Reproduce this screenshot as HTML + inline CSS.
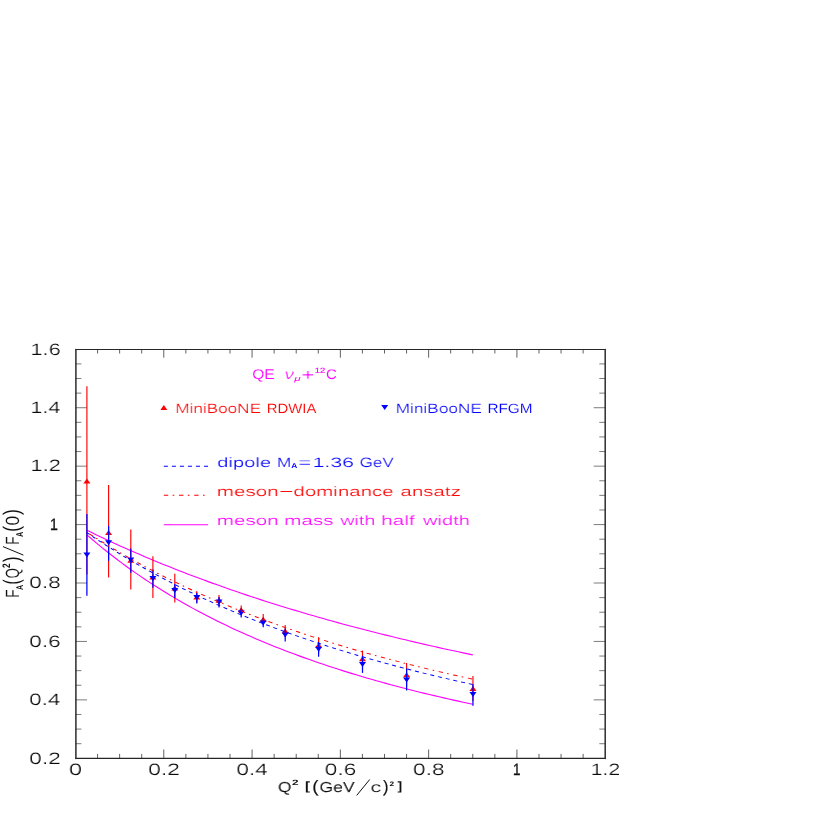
<!DOCTYPE html>
<html><head><meta charset="utf-8"><title>FA(Q2)/FA(0)</title>
<style>
html,body{margin:0;padding:0;background:#fff;}
body{width:817px;height:817px;overflow:hidden;}
svg{display:block;}
text{font-family:"Liberation Sans",sans-serif;text-rendering:geometricPrecision;}
.k{fill:#111;}
.r{fill:#f00;}
.b{fill:#00f;}
.m{fill:#f0f;}
.w text{stroke:#fff;stroke-width:0.12px;}
.w2 text{stroke:#fff;stroke-width:0.08px;}
</style></head><body>
<svg width="817" height="817" viewBox="0 0 817 817">
<rect x="0" y="0" width="817" height="817" fill="#fff"/>
<defs><filter id="thin" filterUnits="userSpaceOnUse" x="0" y="0" width="817" height="817" color-interpolation-filters="sRGB"><feOffset dx="1" dy="0" result="o"/><feComposite in="SourceGraphic" in2="o" operator="arithmetic" k1="0.45" k2="0.55" k3="0" k4="0"/></filter><filter id="gray" filterUnits="userSpaceOnUse" x="0" y="0" width="817" height="817"><feOffset dx="0" dy="0"/></filter></defs>
<g stroke="#444" stroke-width="0.85" fill="none">
<path d="M97.57 758.30V753.90M97.57 349.30V353.50"/>
<path d="M119.64 758.30V753.90M119.64 349.30V353.50"/>
<path d="M141.71 758.30V753.90M141.71 349.30V353.50"/>
<path d="M163.78 758.30V749.50M163.78 349.30V357.70"/>
<path d="M185.85 758.30V753.90M185.85 349.30V353.50"/>
<path d="M207.93 758.30V753.90M207.93 349.30V353.50"/>
<path d="M230.00 758.30V753.90M230.00 349.30V353.50"/>
<path d="M252.07 758.30V749.50M252.07 349.30V357.70"/>
<path d="M274.14 758.30V753.90M274.14 349.30V353.50"/>
<path d="M296.21 758.30V753.90M296.21 349.30V353.50"/>
<path d="M318.28 758.30V753.90M318.28 349.30V353.50"/>
<path d="M340.35 758.30V749.50M340.35 349.30V357.70"/>
<path d="M362.42 758.30V753.90M362.42 349.30V353.50"/>
<path d="M384.49 758.30V753.90M384.49 349.30V353.50"/>
<path d="M406.56 758.30V753.90M406.56 349.30V353.50"/>
<path d="M428.63 758.30V749.50M428.63 349.30V357.70"/>
<path d="M450.70 758.30V753.90M450.70 349.30V353.50"/>
<path d="M472.78 758.30V753.90M472.78 349.30V353.50"/>
<path d="M494.85 758.30V753.90M494.85 349.30V353.50"/>
<path d="M516.92 758.30V749.50M516.92 349.30V357.70"/>
<path d="M538.99 758.30V753.90M538.99 349.30V353.50"/>
<path d="M561.06 758.30V753.90M561.06 349.30V353.50"/>
<path d="M583.13 758.30V753.90M583.13 349.30V353.50"/>
</g><g stroke="#444" stroke-width="0.7" fill="none">
<path d="M75.50 743.69H81.40M605.20 743.69H599.30"/>
<path d="M75.50 729.09H81.40M605.20 729.09H599.30"/>
<path d="M75.50 714.48H81.40M605.20 714.48H599.30"/>
<path d="M75.50 699.87H87.00M605.20 699.87H593.70"/>
<path d="M75.50 685.26H81.40M605.20 685.26H599.30"/>
<path d="M75.50 670.66H81.40M605.20 670.66H599.30"/>
<path d="M75.50 656.05H81.40M605.20 656.05H599.30"/>
<path d="M75.50 641.44H87.00M605.20 641.44H593.70"/>
<path d="M75.50 626.84H81.40M605.20 626.84H599.30"/>
<path d="M75.50 612.23H81.40M605.20 612.23H599.30"/>
<path d="M75.50 597.62H81.40M605.20 597.62H599.30"/>
<path d="M75.50 583.01H87.00M605.20 583.01H593.70"/>
<path d="M75.50 568.41H81.40M605.20 568.41H599.30"/>
<path d="M75.50 553.80H81.40M605.20 553.80H599.30"/>
<path d="M75.50 539.19H81.40M605.20 539.19H599.30"/>
<path d="M75.50 524.59H87.00M605.20 524.59H593.70"/>
<path d="M75.50 509.98H81.40M605.20 509.98H599.30"/>
<path d="M75.50 495.37H81.40M605.20 495.37H599.30"/>
<path d="M75.50 480.76H81.40M605.20 480.76H599.30"/>
<path d="M75.50 466.16H87.00M605.20 466.16H593.70"/>
<path d="M75.50 451.55H81.40M605.20 451.55H599.30"/>
<path d="M75.50 436.94H81.40M605.20 436.94H599.30"/>
<path d="M75.50 422.34H81.40M605.20 422.34H599.30"/>
<path d="M75.50 407.73H87.00M605.20 407.73H593.70"/>
<path d="M75.50 393.12H81.40M605.20 393.12H599.30"/>
<path d="M75.50 378.51H81.40M605.20 378.51H599.30"/>
<path d="M75.50 363.91H81.40M605.20 363.91H599.30"/>
</g>
<g fill="none" stroke-width="1.1">
<path stroke="#f0f" d="M86.89 530.26 L91.71 532.61 L96.54 534.93 L101.36 537.22 L106.18 539.49 L111.01 541.73 L115.83 543.94 L120.65 546.13 L125.48 548.29 L130.30 550.42 L135.12 552.53 L139.95 554.61 L144.77 556.67 L149.60 558.71 L154.42 560.72 L159.24 562.70 L164.07 564.67 L168.89 566.61 L173.71 568.53 L178.54 570.43 L183.36 572.30 L188.18 574.16 L193.01 575.99 L197.83 577.80 L202.65 579.60 L207.48 581.37 L212.30 583.12 L217.13 584.85 L221.95 586.57 L226.77 588.26 L231.60 589.94 L236.42 591.60 L241.24 593.24 L246.07 594.86 L250.89 596.46 L255.71 598.05 L260.54 599.62 L265.36 601.17 L270.18 602.71 L275.01 604.23 L279.83 605.73 L284.66 607.22 L289.48 608.69 L294.30 610.15 L299.13 611.59 L303.95 613.01 L308.77 614.43 L313.60 615.82 L318.42 617.21 L323.24 618.57 L328.07 619.93 L332.89 621.27 L337.71 622.60 L342.54 623.91 L347.36 625.21 L352.19 626.50 L357.01 627.77 L361.83 629.03 L366.66 630.28 L371.48 631.52 L376.30 632.74 L381.13 633.95 L385.95 635.15 L390.77 636.34 L395.60 637.52 L400.42 638.68 L405.24 639.84 L410.07 640.98 L414.89 642.11 L419.72 643.23 L424.54 644.34 L429.36 645.44 L434.19 646.53 L439.01 647.61 L443.83 648.68 L448.66 649.73 L453.48 650.78 L458.30 651.82 L463.13 652.85 L467.95 653.87 L472.78 654.88"/>
<path stroke="#f0f" d="M86.89 534.84 L91.71 539.01 L96.54 543.09 L101.36 547.07 L106.18 550.97 L111.01 554.77 L115.83 558.50 L120.65 562.14 L125.48 565.70 L130.30 569.18 L135.12 572.59 L139.95 575.92 L144.77 579.19 L149.60 582.38 L154.42 585.51 L159.24 588.58 L164.07 591.58 L168.89 594.52 L173.71 597.40 L178.54 600.22 L183.36 602.99 L188.18 605.71 L193.01 608.37 L197.83 610.97 L202.65 613.53 L207.48 616.04 L212.30 618.50 L217.13 620.91 L221.95 623.28 L226.77 625.61 L231.60 627.89 L236.42 630.13 L241.24 632.33 L246.07 634.49 L250.89 636.61 L255.71 638.69 L260.54 640.74 L265.36 642.75 L270.18 644.72 L275.01 646.66 L279.83 648.57 L284.66 650.44 L289.48 652.28 L294.30 654.09 L299.13 655.87 L303.95 657.62 L308.77 659.34 L313.60 661.03 L318.42 662.69 L323.24 664.33 L328.07 665.94 L332.89 667.53 L337.71 669.08 L342.54 670.62 L347.36 672.13 L352.19 673.61 L357.01 675.07 L361.83 676.51 L366.66 677.93 L371.48 679.33 L376.30 680.70 L381.13 682.05 L385.95 683.38 L390.77 684.69 L395.60 685.99 L400.42 687.26 L405.24 688.51 L410.07 689.75 L414.89 690.97 L419.72 692.17 L424.54 693.35 L429.36 694.51 L434.19 695.66 L439.01 696.79 L443.83 697.91 L448.66 699.01 L453.48 700.09 L458.30 701.16 L463.13 702.21 L467.95 703.25 L472.78 704.28"/>
</g>
<g stroke="#f00" stroke-width="1.15" fill="#f00">
<path d="M86.90 386.20V574.50"/>
<path d="M108.60 485.10V577.60"/>
<path d="M130.80 529.50V589.50"/>
<path d="M152.90 556.20V598.00"/>
<path d="M174.80 573.80V602.40"/>
<path d="M196.80 591.40V602.60"/>
<path d="M219.00 595.00V605.40"/>
<path d="M241.20 605.40V614.20"/>
<path d="M263.20 614.00V624.40"/>
<path d="M285.20 625.00V637.00"/>
<path d="M318.60 637.30V653.00"/>
<path d="M362.50 650.50V667.00"/>
<path d="M406.60 663.00V686.60"/>
<path d="M472.95 676.00V701.00"/>
</g><g fill="#f00">
<path d="M83.40 483.50L90.40 483.50L86.90 478.50Z"/>
<path d="M105.10 534.90L112.10 534.90L108.60 529.90Z"/>
<path d="M127.30 562.80L134.30 562.80L130.80 557.80Z"/>
<path d="M149.40 579.60L156.40 579.60L152.90 574.60Z"/>
<path d="M171.30 590.60L178.30 590.60L174.80 585.60Z"/>
<path d="M193.30 599.50L200.30 599.50L196.80 594.50Z"/>
<path d="M215.50 602.70L222.50 602.70L219.00 597.70Z"/>
<path d="M237.70 612.30L244.70 612.30L241.20 607.30Z"/>
<path d="M259.70 621.70L266.70 621.70L263.20 616.70Z"/>
<path d="M281.70 633.50L288.70 633.50L285.20 628.50Z"/>
<path d="M315.10 647.70L322.10 647.70L318.60 642.70Z"/>
<path d="M359.00 661.30L366.00 661.30L362.50 656.30Z"/>
<path d="M403.10 677.30L410.10 677.30L406.60 672.30Z"/>
<path d="M469.45 691.00L476.45 691.00L472.95 686.00Z"/>
</g>
<g stroke="#00f" stroke-width="1.25">
<path d="M86.90 514.00V595.80"/>
<path d="M108.60 525.80V560.80"/>
<path d="M130.80 548.60V572.80"/>
<path d="M152.90 569.40V587.70"/>
<path d="M174.80 584.00V598.00"/>
<path d="M196.80 592.90V603.50"/>
<path d="M219.00 597.00V607.60"/>
<path d="M241.20 608.50V617.60"/>
<path d="M263.20 618.50V627.30"/>
<path d="M285.20 628.50V641.50"/>
<path d="M318.60 642.00V656.70"/>
<path d="M362.50 655.80V672.90"/>
<path d="M406.60 668.50V690.50"/>
<path d="M472.95 684.20V705.80"/>
</g><g fill="#00f">
<path d="M83.40 552.40L90.40 552.40L86.90 557.40Z"/>
<path d="M105.10 540.20L112.10 540.20L108.60 545.20Z"/>
<path d="M127.30 557.40L134.30 557.40L130.80 562.40Z"/>
<path d="M149.40 576.00L156.40 576.00L152.90 581.00Z"/>
<path d="M171.30 587.90L178.30 587.90L174.80 592.90Z"/>
<path d="M193.30 595.10L200.30 595.10L196.80 600.10Z"/>
<path d="M215.50 599.50L222.50 599.50L219.00 604.50Z"/>
<path d="M237.70 610.50L244.70 610.50L241.20 615.50Z"/>
<path d="M259.70 620.40L266.70 620.40L263.20 625.40Z"/>
<path d="M281.70 632.50L288.70 632.50L285.20 637.50Z"/>
<path d="M315.10 646.80L322.10 646.80L318.60 651.80Z"/>
<path d="M359.00 662.10L366.00 662.10L362.50 667.10Z"/>
<path d="M403.10 677.40L410.10 677.40L406.60 682.40Z"/>
<path d="M469.45 691.90L476.45 691.90L472.95 696.90Z"/>
</g>
<g fill="none" stroke-width="0.95" transform="scale(1.295,1)">
<path stroke="#f00" stroke-dasharray="3.4 3.4 1.3 3.63" stroke-dashoffset="9.23" d="M67.10 532.19 L70.82 535.32 L74.54 538.40 L78.27 541.42 L81.99 544.40 L85.72 547.32 L89.44 550.20 L93.17 553.03 L96.89 555.82 L100.62 558.56 L104.34 561.25 L108.07 563.91 L111.79 566.52 L115.52 569.09 L119.24 571.62 L122.97 574.11 L126.69 576.56 L130.42 578.97 L134.14 581.35 L137.87 583.69 L141.59 585.99 L145.32 588.26 L149.04 590.50 L152.77 592.70 L156.49 594.87 L160.21 597.01 L163.94 599.12 L167.66 601.19 L171.39 603.24 L175.11 605.26 L178.84 607.24 L182.56 609.20 L186.29 611.13 L190.01 613.04 L193.74 614.91 L197.46 616.76 L201.19 618.59 L204.91 620.39 L208.64 622.16 L212.36 623.91 L216.09 625.64 L219.81 627.34 L223.54 629.02 L227.26 630.68 L230.99 632.31 L234.71 633.93 L238.43 635.52 L242.16 637.09 L245.88 638.64 L249.61 640.17 L253.33 641.68 L257.06 643.17 L260.78 644.64 L264.51 646.09 L268.23 647.52 L271.96 648.94 L275.68 650.34 L279.41 651.72 L283.13 653.08 L286.86 654.42 L290.58 655.75 L294.31 657.06 L298.03 658.36 L301.76 659.64 L305.48 660.90 L309.21 662.15 L312.93 663.38 L316.66 664.60 L320.38 665.81 L324.10 666.99 L327.83 668.17 L331.55 669.33 L335.28 670.48 L339.00 671.61 L342.73 672.73 L346.45 673.84 L350.18 674.93 L353.90 676.02 L357.63 677.09 L361.35 678.14 L365.08 679.19"/>
<path stroke="#00f" stroke-dasharray="3.15 3.05" stroke-dashoffset="0.6" d="M67.10 532.57 L70.82 535.85 L74.54 539.08 L78.27 542.25 L81.99 545.37 L85.72 548.43 L89.44 551.44 L93.17 554.40 L96.89 557.32 L100.62 560.18 L104.34 563.00 L108.07 565.77 L111.79 568.50 L115.52 571.18 L119.24 573.82 L122.97 576.41 L126.69 578.97 L130.42 581.48 L134.14 583.96 L137.87 586.39 L141.59 588.79 L145.32 591.15 L149.04 593.47 L152.77 595.76 L156.49 598.02 L160.21 600.24 L163.94 602.42 L167.66 604.57 L171.39 606.69 L175.11 608.78 L178.84 610.84 L182.56 612.87 L186.29 614.86 L190.01 616.83 L193.74 618.77 L197.46 620.68 L201.19 622.57 L204.91 624.42 L208.64 626.25 L212.36 628.06 L216.09 629.84 L219.81 631.59 L223.54 633.32 L227.26 635.03 L230.99 636.71 L234.71 638.37 L238.43 640.00 L242.16 641.61 L245.88 643.21 L249.61 644.77 L253.33 646.32 L257.06 647.85 L260.78 649.36 L264.51 650.84 L268.23 652.31 L271.96 653.76 L275.68 655.19 L279.41 656.60 L283.13 657.99 L286.86 659.36 L290.58 660.72 L294.31 662.06 L298.03 663.38 L301.76 664.68 L305.48 665.97 L309.21 667.24 L312.93 668.50 L316.66 669.74 L320.38 670.96 L324.10 672.17 L327.83 673.37 L331.55 674.55 L335.28 675.71 L339.00 676.86 L342.73 678.00 L346.45 679.12 L350.18 680.23 L353.90 681.33 L357.63 682.41 L361.35 683.48 L365.08 684.53"/>
<path d="M126.49 466.3H160.77" stroke="#00f" stroke-dasharray="3.15 3.05"/>
<path d="M126.49 495.2H160.77" stroke="#f00" stroke-dasharray="3.4 3.4 1.3 3.63"/>
</g>
<path d="M75.90 349.45V758.40M605.20 349.45V758.40" stroke="#262626" stroke-width="1.45" stroke-linecap="round" fill="none"/>
<path d="M75.90 349.45H605.20M75.90 758.40H605.20" stroke="#262626" stroke-width="1.1" stroke-linecap="round" fill="none"/>
<path d="M163.8 524.7H208.1" stroke="#f0f" stroke-width="1.1" fill="none"/>
<g fill="#f00"><path d="M160.35 410.05L167.35 410.05L163.85 405.05Z"/></g>
<g fill="#00f"><path d="M381.20 404.90L388.20 404.90L384.70 409.90Z"/></g>
<g filter="url(#thin)">
<text class="k" x="29.11" y="763.60" font-size="16.50" textLength="31.53" lengthAdjust="spacingAndGlyphs">0.2</text>
<text class="k" x="29.13" y="705.17" font-size="16.50" textLength="31.03" lengthAdjust="spacingAndGlyphs">0.4</text>
<text class="k" x="29.12" y="646.74" font-size="16.50" textLength="31.37" lengthAdjust="spacingAndGlyphs">0.6</text>
<text class="k" x="29.12" y="588.31" font-size="16.50" textLength="31.36" lengthAdjust="spacingAndGlyphs">0.8</text>
<text class="k" x="30.23" y="471.46" font-size="16.50" textLength="30.47" lengthAdjust="spacingAndGlyphs">1.2</text>
<text class="k" x="30.26" y="413.03" font-size="16.50" textLength="29.97" lengthAdjust="spacingAndGlyphs">1.4</text>
<text class="k" x="30.24" y="354.60" font-size="16.50" textLength="30.32" lengthAdjust="spacingAndGlyphs">1.6</text>
<text class="k" x="68.88" y="774.85" font-size="16.50" textLength="13.15" lengthAdjust="spacingAndGlyphs">0</text>
<text class="k" x="147.99" y="774.85" font-size="16.50" textLength="31.74" lengthAdjust="spacingAndGlyphs">0.2</text>
<text class="k" x="236.29" y="774.85" font-size="16.50" textLength="31.24" lengthAdjust="spacingAndGlyphs">0.4</text>
<text class="k" x="324.56" y="774.85" font-size="16.50" textLength="31.59" lengthAdjust="spacingAndGlyphs">0.6</text>
<text class="k" x="412.85" y="774.85" font-size="16.50" textLength="31.57" lengthAdjust="spacingAndGlyphs">0.8</text>
<text class="k" x="590.58" y="774.85" font-size="16.50" textLength="29.48" lengthAdjust="spacingAndGlyphs">1.2</text>
<text class="m" x="284.51" y="378.90" font-size="14.10" textLength="9.21" lengthAdjust="spacingAndGlyphs" font-style="italic">&#957;</text>
<text class="m" x="301.22" y="379.80" font-size="15.60" textLength="12.86" lengthAdjust="spacingAndGlyphs">+</text>
<text class="r" x="175.19" y="412.55" font-size="13.45" textLength="85.74" lengthAdjust="spacingAndGlyphs">MiniBooNE</text>
<text class="b" x="395.48" y="412.55" font-size="13.45" textLength="86.36" lengthAdjust="spacingAndGlyphs">MiniBooNE</text>
<text class="b" x="216.95" y="466.75" font-size="13.50" textLength="53.95" lengthAdjust="spacingAndGlyphs">dipole</text>
<text class="b" x="276.88" y="466.75" font-size="13.50" textLength="14.44" lengthAdjust="spacingAndGlyphs">M</text>
<text class="b" x="298.23" y="466.75" font-size="13.50" textLength="12.74" lengthAdjust="spacingAndGlyphs">=</text>
<text class="b" x="312.59" y="466.75" font-size="13.50" textLength="41.25" lengthAdjust="spacingAndGlyphs">1.36</text>
<text class="b" x="359.64" y="466.75" font-size="13.50" textLength="34.03" lengthAdjust="spacingAndGlyphs">GeV</text>
<text class="r" x="216.42" y="495.80" font-size="13.50" textLength="62.22" lengthAdjust="spacingAndGlyphs">meson</text>
<text class="r" x="278.66" y="495.80" font-size="13.50" textLength="14.66" lengthAdjust="spacingAndGlyphs">&#8722;</text>
<text class="r" x="293.34" y="495.80" font-size="13.50" textLength="100.07" lengthAdjust="spacingAndGlyphs">dominance</text>
<text class="r" x="400.33" y="495.80" font-size="13.50" textLength="60.39" lengthAdjust="spacingAndGlyphs">ansatz</text>
<text class="m" x="216.42" y="524.85" font-size="13.50" textLength="62.22" lengthAdjust="spacingAndGlyphs">meson</text>
<text class="m" x="284.03" y="524.85" font-size="13.50" textLength="49.32" lengthAdjust="spacingAndGlyphs">mass</text>
<text class="m" x="340.23" y="524.85" font-size="13.50" textLength="34.84" lengthAdjust="spacingAndGlyphs">with</text>
<text class="m" x="381.06" y="524.85" font-size="13.50" textLength="33.51" lengthAdjust="spacingAndGlyphs">half</text>
<text class="m" x="422.83" y="524.85" font-size="13.50" textLength="46.98" lengthAdjust="spacingAndGlyphs">width</text>
<text class="k" x="277.87" y="791.80" font-size="14.40" textLength="13.56" lengthAdjust="spacingAndGlyphs" style="stroke:#111;stroke-width:0.25px">Q</text>
<text class="k" x="319.22" y="791.80" font-size="14.40" textLength="35.16" lengthAdjust="spacingAndGlyphs" style="stroke:#111;stroke-width:0.25px">GeV</text>
<text class="k" x="370.36" y="791.80" font-size="14.40" textLength="11.02" lengthAdjust="spacingAndGlyphs">c</text>
</g>
<g filter="url(#gray)"><g class="w">
<text class="k" x="49.92" y="529.89" font-size="16.50" textLength="7.87" lengthAdjust="spacingAndGlyphs" style="stroke:#111;stroke-width:0.35px">1</text>
<text class="k" x="512.98" y="774.85" font-size="16.50" textLength="7.48" lengthAdjust="spacingAndGlyphs" style="stroke:#111;stroke-width:0.35px">1</text>
<text class="m" x="252.16" y="378.90" font-size="14.10" textLength="22.61" lengthAdjust="spacingAndGlyphs">QE</text>
<text class="m" x="325.94" y="378.90" font-size="14.10" textLength="10.83" lengthAdjust="spacingAndGlyphs">C</text>
<text class="r" x="266.78" y="412.55" font-size="13.45" textLength="49.65" lengthAdjust="spacingAndGlyphs">RDWIA</text>
<text class="b" x="487.44" y="412.55" font-size="13.45" textLength="45.11" lengthAdjust="spacingAndGlyphs">RFGM</text>
<text class="k" x="312.23" y="792.00" font-size="16.50" textLength="6.28" lengthAdjust="spacingAndGlyphs" style="stroke:#111;stroke-width:0.15px">(</text>
<text class="k" x="383.10" y="792.00" font-size="16.50" textLength="5.53" lengthAdjust="spacingAndGlyphs" style="stroke:#111;stroke-width:0.15px">)</text>
</g>
<g>
<text class="m" x="294.25" y="380.80" font-size="7.60" textLength="6.44" lengthAdjust="spacingAndGlyphs" font-style="italic">&#956;</text>
<text class="m" x="314.88" y="372.80" font-size="7.60" textLength="10.49" lengthAdjust="spacingAndGlyphs" style="stroke:#f0f;stroke-width:0.15px">12</text>
<text class="b" x="291.39" y="468.40" font-size="7.10" textLength="6.03" lengthAdjust="spacingAndGlyphs" font-weight="bold">A</text>
<text class="k" x="291.99" y="785.00" font-size="7.70" textLength="6.58" lengthAdjust="spacingAndGlyphs" font-weight="bold">2</text>
<text class="k" x="304.95" y="790.00" font-size="12.00" textLength="5.03" lengthAdjust="spacingAndGlyphs" font-weight="bold">[</text>
<text class="k" x="389.61" y="785.70" font-size="6.40" textLength="4.62" lengthAdjust="spacingAndGlyphs" font-weight="bold">2</text>
<text class="k" x="397.63" y="790.00" font-size="12.00" textLength="4.66" lengthAdjust="spacingAndGlyphs" font-weight="bold">]</text>
</g></g>
<path d="M356.7 795.4L369.7 779.5M23.4 555.1L3.0 546.6" stroke="#111" stroke-width="1" fill="none"/>
<g filter="url(#gray)"><g class="w2" transform="translate(19.0,597.0) rotate(-90) scale(1,1.295)">
<text class="k" x="-0.94" y="0.00" font-size="14.80" textLength="8.50" lengthAdjust="spacingAndGlyphs">F</text>
<text class="k" x="6.93" y="3.10" font-size="7.60" textLength="5.06" lengthAdjust="spacingAndGlyphs" font-weight="bold" style="stroke:none">A</text>
<text class="k" x="12.46" y="0.00" font-size="17.40" textLength="5.02" lengthAdjust="spacingAndGlyphs" style="stroke:none">(</text>
<text class="k" x="18.56" y="0.00" font-size="14.80" textLength="10.48" lengthAdjust="spacingAndGlyphs">Q</text>
<text class="k" x="29.01" y="-7.10" font-size="8.40" textLength="4.62" lengthAdjust="spacingAndGlyphs" font-weight="bold" style="stroke:none">2</text>
<text class="k" x="35.00" y="0.00" font-size="17.40" textLength="5.40" lengthAdjust="spacingAndGlyphs" style="stroke:none">)</text>
<text class="k" x="51.96" y="0.00" font-size="14.80" textLength="8.50" lengthAdjust="spacingAndGlyphs">F</text>
<text class="k" x="60.02" y="3.10" font-size="7.60" textLength="5.27" lengthAdjust="spacingAndGlyphs" font-weight="bold" style="stroke:none">A</text>
<text class="k" x="65.22" y="0.00" font-size="17.40" textLength="5.78" lengthAdjust="spacingAndGlyphs" style="stroke:none">(</text>
<text class="k" x="71.42" y="0.00" font-size="14.80" textLength="9.66" lengthAdjust="spacingAndGlyphs">0</text>
<text class="k" x="82.10" y="0.00" font-size="17.40" textLength="5.78" lengthAdjust="spacingAndGlyphs" style="stroke:none">)</text>
</g></g>
</svg></body></html>
